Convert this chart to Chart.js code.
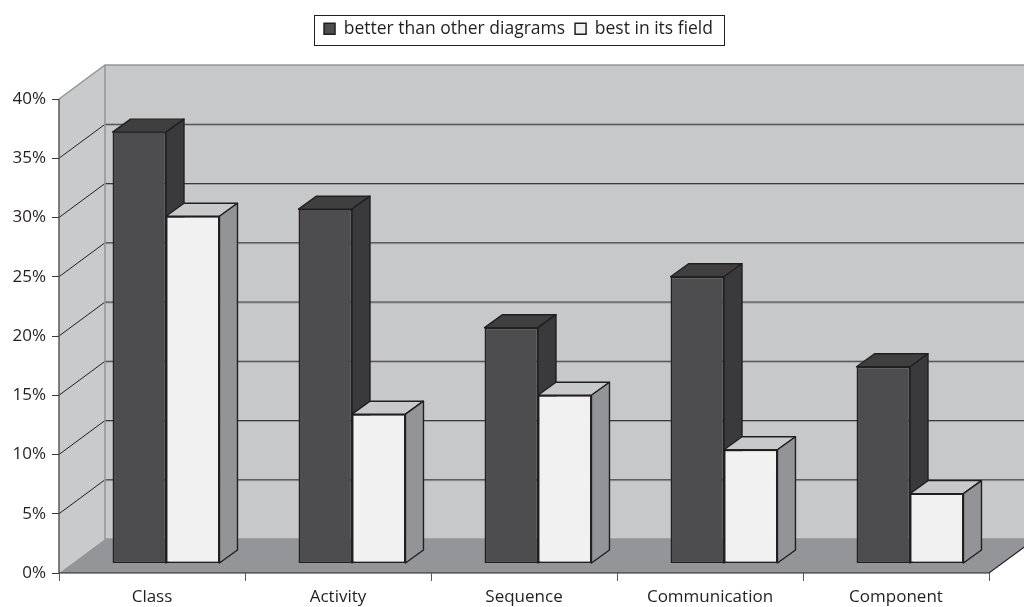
<!DOCTYPE html>
<html>
<head>
<meta charset="utf-8">
<script src="https://cdn.jsdelivr.net/npm/chart.js@4"></script>
<style>html,body{margin:0;padding:0;background:#fff}#wrap{width:1024px;height:607px}</style>
</head>
<body>
<div id="wrap"><canvas id="c" width="1024" height="607"></canvas></div>
<script>
const categories = ['Class', 'Activity', 'Sequence', 'Communication', 'Component'];
const betterThanOther = [36.4, 29.9, 19.9, 24.2, 16.6];
const bestInField = [29.3, 12.6, 14.2, 9.6, 5.9];
const seriesNames = ['better than other diagrams', 'best in its field'];
const yTicks = [0, 5, 10, 15, 20, 25, 30, 35, 40];

const WALL = {dx: 46, dy: -34};
const BAR_SHIFT = {dx: 14, dy: -9.5};
const BAR_DEPTH = {dx: 18, dy: -13};
const EDGE = '#231f20';
const faces = [
  {top: '#3f3f40', side: '#3a3a3c'},
  {top: '#c8c9cb', side: '#929497'}
];

function poly(ctx, pts, fill, stroke, lw) {
  ctx.beginPath();
  pts.forEach((p, i) => i ? ctx.lineTo(p[0], p[1]) : ctx.moveTo(p[0], p[1]));
  ctx.closePath();
  if (fill) { ctx.fillStyle = fill; ctx.fill(); }
  if (stroke) { ctx.strokeStyle = stroke; ctx.lineWidth = lw || 1; ctx.stroke(); }
}

const scene3d = {
  id: 'scene3d',
  beforeInit(chart) {
    const fit = chart.legend.fit;
    chart.legend.fit = function () { fit.call(this); this.height = 89; };
  },
  beforeDraw(chart) {
    const ctx = chart.ctx, a = chart.chartArea, y = chart.scales.y;
    const l = a.left, r = a.right, b = y.getPixelForValue(0), t = y.getPixelForValue(40);
    const dx = WALL.dx, dy = WALL.dy;
    ctx.save();
    poly(ctx, [[l, b], [l + dx, b + dy], [l + dx, t + dy], [l, t]], '#c9cacc');
    poly(ctx, [[l + dx, t + dy], [r + dx, t + dy], [r + dx, b + dy], [l + dx, b + dy]], '#c7c8ca');
    poly(ctx, [[l, b], [l + dx, b + dy], [r + dx, b + dy], [r, b]], '#939598');
    yTicks.forEach(v => {
      if (v === 0) return;
      const p = y.getPixelForValue(v);
      if (v < 40) {
        ctx.strokeStyle = '#9a9b9d'; ctx.lineWidth = 1;
        ctx.beginPath(); ctx.moveTo(l + dx, p + dy + 1); ctx.lineTo(r + dx, p + dy + 1); ctx.stroke();
        ctx.strokeStyle = '#3a3a3c'; ctx.lineWidth = 1;
        ctx.beginPath(); ctx.moveTo(l + dx, p + dy); ctx.lineTo(r + dx, p + dy); ctx.stroke();
        ctx.strokeStyle = '#231f20';
        ctx.beginPath(); ctx.moveTo(l, p); ctx.lineTo(l + dx, p + dy); ctx.stroke();
      }
    });
    ctx.strokeStyle = '#939598'; ctx.lineWidth = 1.5;
    ctx.beginPath();
    ctx.moveTo(l, t); ctx.lineTo(l + dx, t + dy); ctx.lineTo(r + dx, t + dy);
    ctx.moveTo(l + dx, t + dy); ctx.lineTo(l + dx, b + dy); ctx.lineTo(r + dx, b + dy);
    ctx.stroke();
    ctx.strokeStyle = '#58595b'; ctx.lineWidth = 1.5;
    ctx.beginPath(); ctx.moveTo(l, t); ctx.lineTo(l, b); ctx.stroke();
    ctx.strokeStyle = '#231f20'; ctx.lineWidth = 1.2;
    ctx.beginPath(); ctx.moveTo(l, b); ctx.lineTo(r, b); ctx.lineTo(r + dx, b + dy); ctx.stroke();
    ctx.restore();
  },
  beforeDatasetsDraw(chart) {
    const ctx = chart.ctx;
    const d = BAR_DEPTH;
    ctx.save();
    ctx.translate(BAR_SHIFT.dx, BAR_SHIFT.dy);
    ctx.lineJoin = 'round';
    categories.forEach((_, i) => {
      [0, 1].forEach(ds => {
        const e = chart.getDatasetMeta(ds).data[i];
        const L = e.x - e.width / 2, R = e.x + e.width / 2, T = e.y, B = e.base;
        poly(ctx, [[L, T], [L + d.dx, T + d.dy], [R + d.dx, T + d.dy], [R, T]], faces[ds].top, EDGE, 1.4);
        poly(ctx, [[R, T], [R + d.dx, T + d.dy], [R + d.dx, B + d.dy], [R, B]], faces[ds].side, EDGE, 1.4);
      });
    });
    ctx.restore();
  },
  beforeDatasetDraw(chart) {
    chart.ctx.save();
    chart.ctx.translate(BAR_SHIFT.dx, BAR_SHIFT.dy);
  },
  afterDatasetDraw(chart) {
    chart.ctx.restore();
  },
  afterDraw(chart) {
    const boxes = chart.legend.legendHitBoxes, ctx = chart.ctx;
    const x0 = boxes[0].left - 10;
    const last = boxes[boxes.length - 1];
    const x1 = last.left + last.width + 11;
    const y0 = boxes[0].top - 5;
    ctx.save();
    ctx.strokeStyle = '#231f20'; ctx.lineWidth = 1;
    ctx.strokeRect(Math.round(x0) + .5, Math.round(y0) + .5, Math.round(x1 - x0), 30);
    ctx.restore();
  }
};

const FONT = {family: '"Open Sans", "Noto Sans", sans-serif', size: 17};
const LEGEND_FONT = {family: '"Open Sans", "Noto Sans", sans-serif', size: 17.5};

new Chart(document.getElementById('c'), {
  type: 'bar',
  data: {
    labels: categories,
    datasets: [
      {label: seriesNames[0], data: betterThanOther, backgroundColor: '#4d4d4f', borderColor: EDGE, borderWidth: 1.5},
      {label: seriesNames[1], data: bestInField, backgroundColor: '#f1f1f2', borderColor: EDGE, borderWidth: 1.5}
    ]
  },
  plugins: [scene3d],
  options: {
    responsive: false,
    animation: false,
    clip: false,
    devicePixelRatio: 1,
    layout: {padding: {left: 13, right: 0, top: 10, bottom: 0}},
    datasets: {bar: {barPercentage: 1, categoryPercentage: 0.575, borderSkipped: false}},
    plugins: {
      tooltip: {enabled: false},
      legend: {
        position: 'top',
        labels: {boxWidth: 11, boxHeight: 11, padding: 10, color: '#231f20', font: LEGEND_FONT}
      }
    },
    scales: {
      x: {
        afterFit(s) { s.height = 34; s.paddingRight = 35; s.paddingLeft = 0; },
        grid: {drawOnChartArea: false, offset: true, tickLength: 8, color: '#58595b', tickColor: '#58595b'},
        border: {display: false},
        ticks: {color: '#231f20', font: FONT, padding: 6, maxRotation: 0}
      },
      y: {
        min: 0, max: 40,
        afterFit(s) { s.width = 46; s.paddingTop = 0; s.paddingBottom = 0; },
        afterBuildTicks(s) { s.ticks = yTicks.map(v => ({value: v})); },
        grid: {drawOnChartArea: false, tickLength: 7, color: '#3a3a3c', tickColor: '#3a3a3c'},
        border: {display: false},
        ticks: {color: '#231f20', font: FONT, padding: 6, callback: v => v + '%'}
      }
    }
  }
});
</script>
</body>
</html>
